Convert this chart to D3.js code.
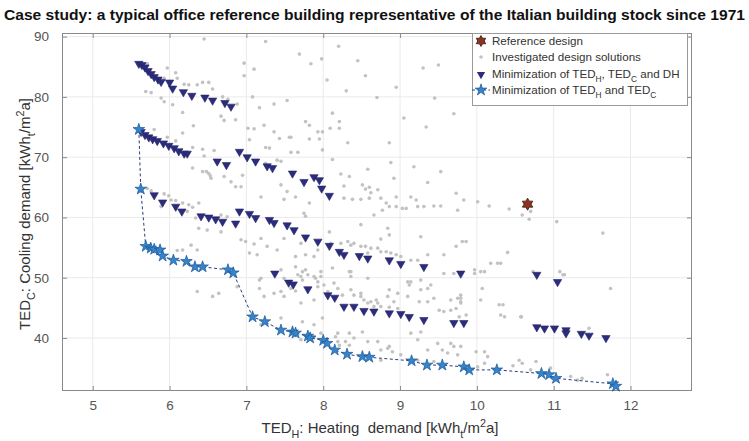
<!DOCTYPE html>
<html><head><meta charset="utf-8">
<script src="https://cdn.jsdelivr.net/npm/d3@7"></script>
<style>body{margin:0;background:#fff} svg{display:block} text{font-family:"Liberation Sans",Arial,Helvetica,sans-serif}</style>
</head><body><svg id="c" width="749" height="441"></svg>
<script>
const titleText = "Case study: a typical office reference building representative of the Italian building stock since 1971";
const xTicks = [5,6,7,8,9,10,11,12];
const yTicks = [40,50,60,70,80,90];
const xDomain = [4.6,12.8];
const yDomain = [31.2,90.6];
const legendLabels = ["Reference design","Investigated design solutions","Minimization of TED_H, TED_C and DH","Minimization of TED_H and TED_C"];

const referenceDesign = [[10.66,62.2]];

const investigated = [
[5.71,85.5],[5.97,84.8],[6.08,84.0],[6.10,83.1],[5.93,83.1],[6.19,82.1],[6.25,82.0],[6.36,82.0],[6.43,82.4],[6.51,82.4],[6.56,81.3],[5.69,80.9],[5.76,80.7],[5.89,79.8],[5.93,79.2],[6.04,78.7],[6.17,77.4],[6.69,80.0],[6.76,79.6],[6.88,78.8],[6.97,85.6],[6.97,83.5],[7.10,84.6],[7.69,87.1],[7.84,85.5],[7.08,80.0],[7.17,78.2],[7.36,78.8],[7.53,79.4],[6.67,76.8],[6.71,76.1],[6.86,76.2],[6.31,75.2],[7.02,74.8],[7.10,74.7],[7.23,75.3],[7.36,74.2],[7.43,73.1],[7.77,75.9],[7.82,75.3],[7.56,73.3],[7.25,71.6],[7.30,71.5],[7.58,70.8],[7.93,74.2],[7.95,73.0],[7.04,72.9],[6.17,74.0],[5.80,74.6],[5.97,73.3],[6.08,72.7],[6.30,71.6],[6.43,71.3],[6.45,70.2],[6.58,71.1],[6.30,68.2],[6.48,67.6],[6.53,66.9],[6.95,67.0],[7.25,69.0],[7.40,69.5],
[6.45,89.6],[7.25,89.2],[7.98,86.3],[8.2,88.4],[8.05,82.8],[8.3,81.0],[8.55,83.5],[8.7,79.9],[9.3,84.8],[9.5,85.3],[9.45,79.8],[8.95,81.6],[9.05,76.5],[9.7,77.2],[8.45,86.0],
[5.71,64.8],[5.76,64.4],[5.93,63.9],[5.99,63.6],[6.02,62.9],[6.08,62.8],[6.17,62.4],[6.25,62.1],[6.30,61.7],[6.38,62.4],[5.89,61.8],[6.23,61.0],[6.34,59.9],[6.43,67.6],[6.51,67.3],[6.54,66.5],[6.71,66.8],[6.80,65.9],[6.86,65.1],[6.93,65.1],[7.19,63.4],[7.45,65.4],[7.53,64.3],[7.64,63.4],[7.75,60.7],[7.82,62.4],[6.67,60.4],[6.75,60.1],[6.38,58.2],[6.49,57.9],[6.67,57.6],[6.36,54.6],[6.28,55.4],[6.17,54.6],[6.10,54.5],[6.93,56.3],[6.99,56.0],[7.10,55.6],[7.19,56.5],[7.27,55.2],[7.04,54.1],[7.14,53.8],[7.40,54.6],[7.49,56.5],[7.71,55.7],[7.77,53.8],[7.64,53.5],[7.93,54.6],[7.19,49.9],[7.45,51.3],[7.49,49.9],[7.64,51.8],[7.77,51.3],[7.90,49.9],[7.73,49.6],[6.88,48.5],[6.56,46.9],[6.64,47.4],[6.36,47.7],[7.17,48.2],[7.58,48.2],
[7.19,42.2],[7.45,43.3],[7.73,42.7],[7.99,43.3],[7.88,42.2],[8.19,40.8],[8.34,40.8],[8.16,40.2],[8.40,40.0],[8.51,41.0],[8.19,39.4],[8.21,38.8],[8.29,39.4],[8.34,38.8],[8.58,39.4],[8.71,39.4],[8.75,38.0],[8.84,38.3],[8.90,37.7],[8.86,38.6],[9.01,37.2],[9.14,40.8],[9.27,41.0],[9.23,39.7],[9.49,39.1],[9.36,38.0],[9.55,38.0],[9.66,39.1],[9.79,38.6],[9.62,37.5],[9.75,37.2],[9.23,36.3],[9.44,36.1],[8.75,36.3],[7.71,39.7],[7.88,40.2],[7.97,40.8],[7.73,51.0],[7.80,50.5],[7.88,50.2],[7.97,50.2],[7.93,49.3],[8.01,48.8],[7.93,48.5],[8.14,49.1],[8.19,48.2],[8.06,47.7],[8.25,47.1],[8.36,48.0],[8.40,47.1],[8.49,46.9],[8.53,46.3],[8.62,46.0],[8.69,46.3],[8.71,45.8],[8.58,45.8],[8.66,45.2],[8.75,45.2],[8.84,46.9],[8.92,46.0],[8.97,44.9],[8.86,45.1],[9.12,48.8],[9.10,46.9],[9.27,48.0],[9.25,46.0],[9.36,46.0],[9.44,46.6],[9.51,44.6],[9.57,44.4],[9.66,44.6],[9.66,46.3],[9.79,46.0],[9.79,47.1],[9.14,49.3],[9.40,48.8],[9.70,50.7],[8.36,50.2],[8.58,49.9],[8.34,51.0],[7.36,47.4],[7.49,46.9],[7.45,47.7],[7.64,47.8],[7.71,50.2],[7.88,46.3],[7.71,45.8],[7.23,46.9],[7.17,49.6],
[9.97,50.7],[10.10,51.0],[10.07,48.2],[10.05,46.3],[9.75,46.6],[9.79,45.8],[9.73,44.9],[9.77,43.5],[9.86,43.8],[9.70,38.6],[9.99,37.7],[10.10,37.7],[10.14,36.9],[10.29,45.5],[10.31,43.8],[10.57,43.5],[10.55,36.3],[10.59,35.8],[10.47,35.4],[10.70,34.7],[10.77,36.1],[10.96,35.0],[11.22,33.6],[11.31,33.0],[11.37,33.3],[11.46,41.6],[11.70,33.9],[11.74,48.2],[11.14,50.5],[10.10,35.8],[10.01,35.2],
[8.12,77.3],[8.21,75.9],[8.21,74.8],[7.99,74.2],[8.09,74.8],[7.58,73.3],[7.82,73.0],[8.32,72.4],[8.86,72.4],[9.34,75.0],[7.99,71.2],[7.67,70.8],[8.12,69.6],[7.45,69.3],[8.88,69.1],[9.18,68.4],[9.53,67.6],[8.58,68.0],[8.23,67.2],[8.34,66.8],[8.92,66.5],[9.36,65.8],[9.73,64.0],[8.27,65.2],[8.51,65.4],[8.55,64.7],[8.60,65.0],[8.62,64.1],[8.60,63.2],[8.71,64.6],[8.27,63.2],[8.38,63.0],[8.49,63.0],[8.75,63.2],[8.82,62.4],[8.86,61.8],[8.95,63.4],[8.95,61.8],[8.77,61.2],[8.66,60.4],[9.14,63.4],[9.21,62.9],[9.23,61.8],[9.03,61.5],[9.08,61.5],[9.31,61.8],[9.44,61.9],[9.53,61.9],[9.83,62.9],[10.01,62.6],[10.16,61.9],[10.42,61.4],[10.59,60.4],[9.75,61.2],[7.49,63.0],[7.77,60.2],[8.08,57.6],[8.49,58.8],[8.84,58.2],[8.86,57.1],[8.75,56.4],[9.27,56.8],[9.36,53.8],[9.57,53.8],[9.73,55.2],[9.81,56.0],[9.86,56.0],[8.10,55.7],[8.23,55.7],[8.32,56.0],[8.36,55.4],[8.40,55.7],[8.49,55.2],[8.55,55.2],[8.62,54.9],[8.71,54.9],[8.75,54.3],[8.82,54.3],[8.88,54.1],[8.95,53.8],[9.01,53.5],[9.14,52.9],[9.23,52.9],[8.58,54.1],[7.88,53.5],[7.97,51.0],[7.67,50.5],[8.12,51.6],[8.36,51.0],[9.10,49.3],[9.27,49.6],[9.57,50.7],[9.97,51.3],[10.05,51.0],[10.18,52.4],[10.27,52.4],[10.40,54.2],[9.36,48.2],[8.86,48.0],[8.97,47.4],[9.79,46.6],[8.49,47.4],
[10.70,61.0],[10.68,59.7],[11.04,59.3],[11.64,57.4],[10.31,52.4],[10.73,51.0],[11.08,51.0],[11.12,50.5],[10.34,45.5],[10.36,43.5],[10.58,43.5]
];

const minTriple = [
[5.60,85.5],[5.64,85.3],[5.68,84.9],[5.72,84.3],[5.76,83.8],[5.80,83.3],[5.85,82.9],[5.89,82.5],[6.00,82.4],[6.04,81.4],[6.18,80.8],[6.29,80.2],[6.46,79.9],[6.56,79.4],[6.72,79.0],[6.80,78.4],
[6.62,69.3],[6.74,68.7],[6.91,70.9],[7.01,70.0],[7.12,69.3],[7.27,68.5],[7.34,68.2],[7.60,67.3],[7.75,65.9],[7.88,66.7],[7.95,66.2],[7.98,64.8],[8.08,63.6],
[5.63,74.2],[5.68,73.7],[5.73,73.3],[5.78,73.0],[5.84,72.7],[5.92,72.3],[5.99,71.9],[6.06,71.5],[6.12,71.0],[6.19,70.6],[6.23,70.6],
[5.80,63.7],[5.91,62.5],[6.08,61.8],[6.16,61.0],[6.41,60.2],[6.51,60.0],[6.60,59.7],[6.69,59.3],[6.86,59.0],[6.91,61.0],[7.04,60.6],[7.12,59.9],[7.30,59.6],[7.36,59.1],[7.53,58.7],[7.62,57.9],[7.77,56.7],[7.93,56.0],[8.08,55.3],[8.21,54.3],[8.27,53.8],[8.47,53.6],[8.58,53.2],[8.86,52.9],[9.01,52.3],[9.31,51.8],[9.79,50.7],[10.78,50.5],[11.05,49.3],
[7.37,50.7],[7.55,49.2],[7.61,48.9],[7.80,48.1],[8.06,47.1],[8.15,46.7],[8.27,45.2],[8.40,45.2],[8.53,44.5],[8.66,44.4],[8.86,44.1],[9.01,44.0],[9.12,43.5],[9.31,43.0],[9.70,42.5],[9.83,42.5],
[10.78,41.8],[10.88,41.6],[11.01,41.6],[11.16,41.3],[11.16,40.8],[11.36,40.7],[11.46,40.4],[11.68,40.0]
];

const minDouble = [
[5.60,74.6],[5.625,64.7],[5.69,55.2],[5.755,54.9],[5.80,54.7],[5.876,54.6],[5.91,53.6],[6.05,52.9],[6.22,52.7],[6.33,51.8],[6.43,51.8],[6.76,51.3],[6.83,50.8],
[7.08,43.5],[7.24,42.7],[7.45,41.3],[7.60,41.0],[7.64,40.8],[7.80,40.3],[7.83,40.0],[8.00,39.6],[8.05,39.1],[8.15,38.0],[8.31,37.3],[8.51,36.9],[8.60,36.8],
[9.15,36.2],[9.35,35.5],[9.55,35.5],[9.83,35.2],[9.90,34.7],[10.26,34.7],[10.84,34.1],[10.94,33.9],[11.03,33.3],[11.77,32.4],[11.81,32.0]
];

const svg = d3.select("#c");
const L=62,R=692,T=33,B=391;
const x = d3.scaleLinear(xDomain,[L,R]);
const y = d3.scaleLinear(yDomain,[B,T]);

// title
const title = svg.append("text").attr("x",4).attr("y",20).attr("font-weight","bold").attr("font-size",15).attr("fill","#111").text(titleText);
title.attr("textLength",741).attr("lengthAdjust","spacingAndGlyphs");

// grid
const grid = svg.append("g").attr("stroke","#eaeaea").attr("stroke-width",1);
xTicks.forEach(t=>grid.append("line").attr("x1",x(t)).attr("x2",x(t)).attr("y1",T).attr("y2",B));
yTicks.forEach(t=>grid.append("line").attr("x1",L).attr("x2",R).attr("y1",y(t)).attr("y2",y(t)));

// axes
function styleAxis(g){g.select(".domain").remove();g.selectAll("line").attr("stroke","#8a8a8a");g.selectAll("text").attr("fill","#555").attr("font-size",13.5).attr("font-family","'Liberation Sans',Arial,sans-serif");}
svg.append("g").attr("transform",`translate(0,${B})`).call(d3.axisBottom(x).tickValues(xTicks).tickSize(-5).tickPadding(9).tickFormat(d3.format("d"))).call(styleAxis);
svg.append("g").attr("transform",`translate(0,${T})`).call(d3.axisTop(x).tickValues(xTicks).tickSize(-5).tickFormat("")).call(styleAxis);
svg.append("g").attr("transform",`translate(${L},0)`).call(d3.axisLeft(y).tickValues(yTicks).tickSize(-5).tickPadding(13).tickFormat(d3.format("d"))).call(styleAxis);
svg.append("g").attr("transform",`translate(${R},0)`).call(d3.axisRight(y).tickValues(yTicks).tickSize(-5).tickFormat("")).call(styleAxis);
svg.append("rect").attr("x",L+0.5).attr("y",T+0.5).attr("width",R-L-1).attr("height",B-T-1).attr("fill","none").attr("stroke","#8a8a8a");

// markers
const hexPath = (r)=>{const p=[];for(let i=0;i<12;i++){const a=-Math.PI/2+i*Math.PI/6;const rr=i%2===0?r:r*0.58;p.push([rr*Math.cos(a),rr*Math.sin(a)]);}return "M"+p.map(d=>d.join(",")).join("L")+"Z";};
const triSym = d3.symbol(d3.symbolTriangle,30)();
const starSym = d3.symbol(d3.symbolStar,42)();
const triFill="#2c2c7e", starFill="#3584cc", starStroke="#1d5795", lineCol="#2a3b7c";

const plot = svg.append("g");
plot.selectAll("circle.inv").data(investigated).join("circle").attr("cx",d=>x(d[0])).attr("cy",d=>y(d[1])).attr("r",1.8).attr("fill","#c2c2c2");
plot.selectAll("path.tri").data(minTriple).join("path").attr("class","tri").attr("d",triSym).attr("transform",d=>`translate(${x(d[0])},${y(d[1])}) rotate(180)`).attr("fill",triFill).attr("stroke","#232366").attr("stroke-width",0.6);
const sorted = minDouble.slice().sort((a,b)=>a[0]-b[0]||b[1]-a[1]);
plot.append("path").attr("d",d3.line().x(d=>x(d[0])).y(d=>y(d[1]))(sorted)).attr("fill","none").attr("stroke",lineCol).attr("stroke-width",1).attr("stroke-dasharray","3,2.5");
plot.selectAll("path.star").data(minDouble).join("path").attr("class","star").attr("d",starSym).attr("transform",d=>`translate(${x(d[0])},${y(d[1])})`).attr("fill",starFill).attr("stroke",starStroke).attr("stroke-width",0.7);
plot.selectAll("path.ref").data(referenceDesign).join("path").attr("class","ref").attr("d",hexPath(6)).attr("transform",d=>`translate(${x(d[0])},${y(d[1])})`).attr("fill","#8a3321").attr("stroke","#3a1a12").attr("stroke-width",0.8);

// rich text helper: "_X" subscript, "^X" superscript
function rich(sel, str, fs){
  const parts = str.split(/([_^]\{[^}]*\}|[_^].)/).filter(s=>s.length);
  let shift=0;
  parts.forEach(p=>{
    let t=p, target=0;
    if(p[0]==="_"||p[0]==="^"){t=p.slice(1).replace(/[{}]/g,""); target = p[0]==="_"? fs*0.35 : -fs*0.4;}
    const ts = sel.append("tspan").text(t).attr("dy",target-shift);
    if(target!==0) ts.attr("font-size",fs*0.72);
    shift=target;
  });
}

// legend
const lg = svg.append("g");
lg.append("rect").attr("x",472.5).attr("y",33.5).attr("width",215).attr("height",72).attr("fill","#fff").attr("stroke","#9a9a9a");
const ly=[41,57,73.5,90];
const mx=481, tx=492;
lg.append("path").attr("d",hexPath(5.5)).attr("transform",`translate(${mx},${ly[0]})`).attr("fill","#8a3321").attr("stroke","#3a1a12").attr("stroke-width",0.8);
lg.append("circle").attr("cx",mx).attr("cy",ly[1]).attr("r",1.8).attr("fill","#c2c2c2");
lg.append("path").attr("d",triSym).attr("transform",`translate(${mx},${ly[2]+1}) rotate(180)`).attr("fill",triFill);
lg.append("line").attr("x1",472).attr("x2",490).attr("y1",ly[3]).attr("y2",ly[3]).attr("stroke",lineCol).attr("stroke-dasharray","3,2.5");
lg.append("path").attr("d",starSym).attr("transform",`translate(${mx},${ly[3]})`).attr("fill",starFill).attr("stroke",starStroke).attr("stroke-width",0.7);
legendLabels.forEach((s,i)=>{
  const t=lg.append("text").attr("x",tx).attr("y",ly[i]+4).attr("font-size",11.6).attr("fill","#333");
  rich(t,s,11.6);
});

// axis labels
const xl = svg.append("text").attr("x",(L+R)/2+3).attr("y",433).attr("text-anchor","middle").attr("font-size",15).attr("fill","#333").style("white-space","pre");
rich(xl,"TED_H: Heating  demand [kWh_t/m^2a]",15);
const yl = svg.append("text").attr("transform",`translate(30,${(T+B)/2+2}) rotate(-90)`).attr("text-anchor","middle").attr("font-size",15).attr("fill","#333");
rich(yl,"TED_C: Cooling demand [kWh_t/m^2a]",15);
</script></body></html>
